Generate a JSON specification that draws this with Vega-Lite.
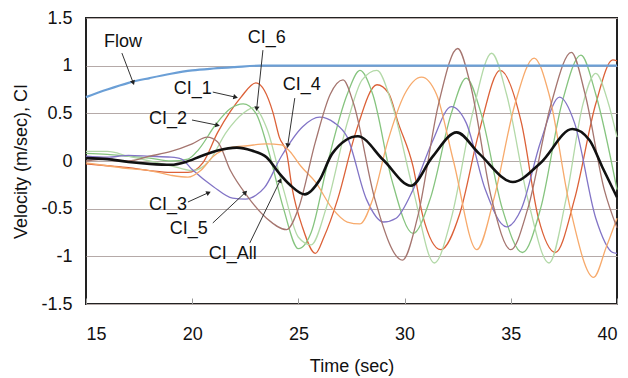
{
  "$schema": "https://vega.github.io/schema/vega-lite/v6.json",
  "width": 531,
  "height": 286,
  "autosize": {"type": "none"},
  "padding": {"left": 86, "top": 18, "right": 11, "bottom": 74},
  "background": "white",
  "config": {
    "view": {"stroke": "#222", "strokeWidth": 2},
    "font": "Liberation Sans",
    "axis": {"labelFont": "Liberation Sans", "titleFont": "Liberation Sans", "labelColor": "#111", "titleColor": "#111", "labelFontSize": 18, "titleFontSize": 18, "titleFontWeight": "normal", "domain": false}
  },
  "datasets": {
    "series": [
      {"s": "Flow", "t": 15, "v": 0.67}, {"s": "Flow", "t": 16, "v": 0.75}, {"s": "Flow", "t": 17, "v": 0.82}, {"s": "Flow", "t": 18, "v": 0.87}, {"s": "Flow", "t": 19, "v": 0.915}, {"s": "Flow", "t": 20, "v": 0.95}, {"s": "Flow", "t": 21, "v": 0.97}, {"s": "Flow", "t": 22, "v": 0.985}, {"s": "Flow", "t": 23.2, "v": 1.0}, {"s": "Flow", "t": 40, "v": 1.0},

      {"s": "CI_1", "t": 15, "v": -0.03}, {"s": "CI_1", "t": 16, "v": -0.05}, {"s": "CI_1", "t": 17, "v": -0.07}, {"s": "CI_1", "t": 18, "v": -0.1}, {"s": "CI_1", "t": 19, "v": -0.12}, {"s": "CI_1", "t": 19.8, "v": -0.12}, {"s": "CI_1", "t": 20.5, "v": -0.02}, {"s": "CI_1", "t": 21.2, "v": 0.3}, {"s": "CI_1", "t": 21.8, "v": 0.52}, {"s": "CI_1", "t": 22.3, "v": 0.67}, {"s": "CI_1", "t": 23.0, "v": 0.82}, {"s": "CI_1", "t": 23.4, "v": 0.74}, {"s": "CI_1", "t": 23.8, "v": 0.51}, {"s": "CI_1", "t": 24.1, "v": 0.25}, {"s": "CI_1", "t": 24.45, "v": 0.08}, {"s": "CI_1", "t": 24.7, "v": -0.28}, {"s": "CI_1", "t": 25.2, "v": -0.7}, {"s": "CI_1", "t": 25.8, "v": -0.97}, {"s": "CI_1", "t": 26.2, "v": -0.8}, {"s": "CI_1", "t": 26.85, "v": -0.4}, {"s": "CI_1", "t": 27.7, "v": 0.3}, {"s": "CI_1", "t": 28.7, "v": 0.8}, {"s": "CI_1", "t": 29.25, "v": 0.71}, {"s": "CI_1", "t": 29.7, "v": 0.4}, {"s": "CI_1", "t": 30.4, "v": -0.06}, {"s": "CI_1", "t": 30.85, "v": -0.57}, {"s": "CI_1", "t": 31.7, "v": -0.93}, {"s": "CI_1", "t": 32.6, "v": -0.55}, {"s": "CI_1", "t": 33.5, "v": 0.3}, {"s": "CI_1", "t": 34.5, "v": 0.95}, {"s": "CI_1", "t": 35.5, "v": 0.4}, {"s": "CI_1", "t": 36.3, "v": -0.6}, {"s": "CI_1", "t": 37.1, "v": -0.96}, {"s": "CI_1", "t": 38.0, "v": -0.4}, {"s": "CI_1", "t": 39.0, "v": 0.6}, {"s": "CI_1", "t": 39.8, "v": 1.06}, {"s": "CI_1", "t": 40, "v": 1.05},

      {"s": "CI_2", "t": 15, "v": 0.08}, {"s": "CI_2", "t": 16, "v": 0.07}, {"s": "CI_2", "t": 17, "v": 0.05}, {"s": "CI_2", "t": 18, "v": 0.03}, {"s": "CI_2", "t": 19, "v": 0.0}, {"s": "CI_2", "t": 19.8, "v": 0.02}, {"s": "CI_2", "t": 20.3, "v": 0.12}, {"s": "CI_2", "t": 21.1, "v": 0.38}, {"s": "CI_2", "t": 21.8, "v": 0.55}, {"s": "CI_2", "t": 22.4, "v": 0.6}, {"s": "CI_2", "t": 23.0, "v": 0.5}, {"s": "CI_2", "t": 23.6, "v": 0.1}, {"s": "CI_2", "t": 24.3, "v": -0.5}, {"s": "CI_2", "t": 25.0, "v": -0.92}, {"s": "CI_2", "t": 25.6, "v": -0.75}, {"s": "CI_2", "t": 26.4, "v": 0.0}, {"s": "CI_2", "t": 27.3, "v": 0.7}, {"s": "CI_2", "t": 27.9, "v": 0.95}, {"s": "CI_2", "t": 28.5, "v": 0.7}, {"s": "CI_2", "t": 29.4, "v": -0.2}, {"s": "CI_2", "t": 30.4, "v": -0.76}, {"s": "CI_2", "t": 31.2, "v": -0.4}, {"s": "CI_2", "t": 32.2, "v": 0.5}, {"s": "CI_2", "t": 32.9, "v": 0.87}, {"s": "CI_2", "t": 33.6, "v": 0.5}, {"s": "CI_2", "t": 34.6, "v": -0.5}, {"s": "CI_2", "t": 35.55, "v": -0.96}, {"s": "CI_2", "t": 36.4, "v": -0.5}, {"s": "CI_2", "t": 37.4, "v": 0.6}, {"s": "CI_2", "t": 38.3, "v": 1.11}, {"s": "CI_2", "t": 39.0, "v": 0.7}, {"s": "CI_2", "t": 40, "v": -0.3},

      {"s": "CI_6", "t": 15, "v": 0.1}, {"s": "CI_6", "t": 16, "v": 0.1}, {"s": "CI_6", "t": 17, "v": 0.05}, {"s": "CI_6", "t": 18, "v": 0.0}, {"s": "CI_6", "t": 19, "v": -0.05}, {"s": "CI_6", "t": 20, "v": -0.1}, {"s": "CI_6", "t": 20.8, "v": 0.0}, {"s": "CI_6", "t": 21.6, "v": 0.3}, {"s": "CI_6", "t": 22.4, "v": 0.5}, {"s": "CI_6", "t": 22.9, "v": 0.56}, {"s": "CI_6", "t": 23.5, "v": 0.35}, {"s": "CI_6", "t": 24.3, "v": -0.3}, {"s": "CI_6", "t": 25.0, "v": -0.8}, {"s": "CI_6", "t": 25.6, "v": -0.88}, {"s": "CI_6", "t": 26.3, "v": -0.5}, {"s": "CI_6", "t": 27.3, "v": 0.4}, {"s": "CI_6", "t": 28.0, "v": 0.85}, {"s": "CI_6", "t": 28.7, "v": 0.95}, {"s": "CI_6", "t": 29.4, "v": 0.6}, {"s": "CI_6", "t": 30.4, "v": -0.3}, {"s": "CI_6", "t": 31.4, "v": -1.07}, {"s": "CI_6", "t": 32.2, "v": -0.6}, {"s": "CI_6", "t": 33.2, "v": 0.5}, {"s": "CI_6", "t": 34.1, "v": 1.13}, {"s": "CI_6", "t": 34.8, "v": 0.7}, {"s": "CI_6", "t": 35.8, "v": -0.4}, {"s": "CI_6", "t": 36.8, "v": -1.07}, {"s": "CI_6", "t": 37.6, "v": -0.4}, {"s": "CI_6", "t": 38.4, "v": 0.6}, {"s": "CI_6", "t": 39.0, "v": 0.92}, {"s": "CI_6", "t": 39.6, "v": 0.6}, {"s": "CI_6", "t": 40, "v": 0.25},

      {"s": "CI_3", "t": 15, "v": 0.05}, {"s": "CI_3", "t": 16, "v": 0.04}, {"s": "CI_3", "t": 17, "v": 0.06}, {"s": "CI_3", "t": 18, "v": 0.05}, {"s": "CI_3", "t": 19, "v": 0.04}, {"s": "CI_3", "t": 19.5, "v": 0.02}, {"s": "CI_3", "t": 20, "v": -0.09}, {"s": "CI_3", "t": 21, "v": -0.27}, {"s": "CI_3", "t": 21.9, "v": -0.39}, {"s": "CI_3", "t": 22.5, "v": -0.4}, {"s": "CI_3", "t": 23.0, "v": -0.36}, {"s": "CI_3", "t": 23.4, "v": -0.28}, {"s": "CI_3", "t": 24.2, "v": 0.05}, {"s": "CI_3", "t": 25.2, "v": 0.36}, {"s": "CI_3", "t": 26.0, "v": 0.46}, {"s": "CI_3", "t": 26.7, "v": 0.4}, {"s": "CI_3", "t": 27.3, "v": 0.25}, {"s": "CI_3", "t": 28.2, "v": -0.4}, {"s": "CI_3", "t": 29.0, "v": -0.64}, {"s": "CI_3", "t": 29.6, "v": -0.6}, {"s": "CI_3", "t": 30.4, "v": -0.3}, {"s": "CI_3", "t": 31.3, "v": 0.2}, {"s": "CI_3", "t": 32.2, "v": 0.57}, {"s": "CI_3", "t": 32.9, "v": 0.4}, {"s": "CI_3", "t": 33.8, "v": -0.3}, {"s": "CI_3", "t": 34.8, "v": -0.69}, {"s": "CI_3", "t": 35.5, "v": -0.5}, {"s": "CI_3", "t": 36.4, "v": 0.2}, {"s": "CI_3", "t": 37.3, "v": 0.67}, {"s": "CI_3", "t": 38.0, "v": 0.4}, {"s": "CI_3", "t": 39.0, "v": -0.6}, {"s": "CI_3", "t": 39.8, "v": -0.96}, {"s": "CI_3", "t": 40, "v": -0.97},

      {"s": "CI_4", "t": 15, "v": -0.02}, {"s": "CI_4", "t": 16, "v": -0.05}, {"s": "CI_4", "t": 17, "v": -0.08}, {"s": "CI_4", "t": 18, "v": -0.1}, {"s": "CI_4", "t": 19, "v": -0.15}, {"s": "CI_4", "t": 19.8, "v": -0.17}, {"s": "CI_4", "t": 20.4, "v": -0.1}, {"s": "CI_4", "t": 21.0, "v": 0.05}, {"s": "CI_4", "t": 21.8, "v": 0.14}, {"s": "CI_4", "t": 22.6, "v": 0.16}, {"s": "CI_4", "t": 23.5, "v": 0.18}, {"s": "CI_4", "t": 24.2, "v": 0.17}, {"s": "CI_4", "t": 24.6, "v": 0.1}, {"s": "CI_4", "t": 25.1, "v": -0.05}, {"s": "CI_4", "t": 25.8, "v": -0.22}, {"s": "CI_4", "t": 26.6, "v": -0.5}, {"s": "CI_4", "t": 27.3, "v": -0.64}, {"s": "CI_4", "t": 27.9, "v": -0.66}, {"s": "CI_4", "t": 28.5, "v": -0.4}, {"s": "CI_4", "t": 29.2, "v": 0.2}, {"s": "CI_4", "t": 30.0, "v": 0.7}, {"s": "CI_4", "t": 30.8, "v": 0.88}, {"s": "CI_4", "t": 31.5, "v": 0.7}, {"s": "CI_4", "t": 32.3, "v": 0.0}, {"s": "CI_4", "t": 33.4, "v": -0.93}, {"s": "CI_4", "t": 34.2, "v": -0.4}, {"s": "CI_4", "t": 35.2, "v": 0.6}, {"s": "CI_4", "t": 36.1, "v": 1.08}, {"s": "CI_4", "t": 36.8, "v": 0.7}, {"s": "CI_4", "t": 37.8, "v": -0.5}, {"s": "CI_4", "t": 38.9, "v": -1.22}, {"s": "CI_4", "t": 39.5, "v": -0.9}, {"s": "CI_4", "t": 40, "v": -0.6},

      {"s": "CI_5", "t": 15, "v": 0.0}, {"s": "CI_5", "t": 16, "v": 0.02}, {"s": "CI_5", "t": 17, "v": 0.0}, {"s": "CI_5", "t": 18, "v": 0.05}, {"s": "CI_5", "t": 19, "v": 0.1}, {"s": "CI_5", "t": 20, "v": 0.18}, {"s": "CI_5", "t": 20.7, "v": 0.25}, {"s": "CI_5", "t": 21.2, "v": 0.2}, {"s": "CI_5", "t": 21.8, "v": -0.1}, {"s": "CI_5", "t": 22.6, "v": -0.37}, {"s": "CI_5", "t": 23.5, "v": -0.6}, {"s": "CI_5", "t": 24.45, "v": -0.72}, {"s": "CI_5", "t": 25.0, "v": -0.5}, {"s": "CI_5", "t": 25.8, "v": 0.2}, {"s": "CI_5", "t": 26.5, "v": 0.7}, {"s": "CI_5", "t": 27.1, "v": 0.85}, {"s": "CI_5", "t": 27.6, "v": 0.6}, {"s": "CI_5", "t": 28.6, "v": -0.4}, {"s": "CI_5", "t": 29.9, "v": -1.04}, {"s": "CI_5", "t": 30.6, "v": -0.6}, {"s": "CI_5", "t": 31.6, "v": 0.6}, {"s": "CI_5", "t": 32.5, "v": 1.18}, {"s": "CI_5", "t": 33.1, "v": 0.8}, {"s": "CI_5", "t": 34.1, "v": -0.4}, {"s": "CI_5", "t": 35.0, "v": -0.93}, {"s": "CI_5", "t": 35.8, "v": -0.5}, {"s": "CI_5", "t": 36.9, "v": 0.6}, {"s": "CI_5", "t": 37.85, "v": 1.14}, {"s": "CI_5", "t": 38.5, "v": 0.7}, {"s": "CI_5", "t": 39.4, "v": -0.3}, {"s": "CI_5", "t": 40, "v": -0.7},

      {"s": "CI_All", "t": 15, "v": 0.03}, {"s": "CI_All", "t": 16, "v": 0.02}, {"s": "CI_All", "t": 17, "v": -0.01}, {"s": "CI_All", "t": 18, "v": -0.03}, {"s": "CI_All", "t": 19, "v": -0.04}, {"s": "CI_All", "t": 19.7, "v": -0.01}, {"s": "CI_All", "t": 20.4, "v": 0.05}, {"s": "CI_All", "t": 21.2, "v": 0.11}, {"s": "CI_All", "t": 22.1, "v": 0.14}, {"s": "CI_All", "t": 22.8, "v": 0.11}, {"s": "CI_All", "t": 23.5, "v": 0.04}, {"s": "CI_All", "t": 24.1, "v": -0.13}, {"s": "CI_All", "t": 24.6, "v": -0.25}, {"s": "CI_All", "t": 25.3, "v": -0.35}, {"s": "CI_All", "t": 26.0, "v": -0.2}, {"s": "CI_All", "t": 26.6, "v": 0.08}, {"s": "CI_All", "t": 27.8, "v": 0.26}, {"s": "CI_All", "t": 29.0, "v": 0.01}, {"s": "CI_All", "t": 30.3, "v": -0.26}, {"s": "CI_All", "t": 31.3, "v": 0.04}, {"s": "CI_All", "t": 32.45, "v": 0.3}, {"s": "CI_All", "t": 33.5, "v": 0.08}, {"s": "CI_All", "t": 35.1, "v": -0.22}, {"s": "CI_All", "t": 36.4, "v": -0.02}, {"s": "CI_All", "t": 37.9, "v": 0.335}, {"s": "CI_All", "t": 38.7, "v": 0.22}, {"s": "CI_All", "t": 39.3, "v": -0.06}, {"s": "CI_All", "t": 40, "v": -0.38}
    ],
    "notes": [
      {"label": "Flow", "t": 16.74, "v": 1.247, "t1": 16.69, "v1": 1.132, "t2": 17.21, "v2": 0.828},
      {"label": "CI_6", "t": 23.51, "v": 1.29, "t1": 23.33, "v1": 1.163, "t2": 23.04, "v2": 0.556},
      {"label": "CI_1", "t": 20.03, "v": 0.755, "t1": 20.97, "v1": 0.723, "t2": 22.01, "v2": 0.671},
      {"label": "CI_2", "t": 18.86, "v": 0.44, "t1": 19.99, "v1": 0.43, "t2": 21.16, "v2": 0.377},
      {"label": "CI_4", "t": 25.16, "v": 0.8, "t1": 24.83, "v1": 0.66, "t2": 24.5, "v2": 0.168},
      {"label": "CI_3", "t": 18.86, "v": -0.46, "t1": 19.8, "v1": -0.43, "t2": 20.74, "v2": -0.335},
      {"label": "CI_5", "t": 19.84, "v": -0.71, "t1": 20.97, "v1": -0.65, "t2": 22.48, "v2": -0.335},
      {"label": "CI_All", "t": 21.91, "v": -0.975, "t1": 22.71, "v1": -0.86, "t2": 24.13, "v2": -0.21}
    ]
  },
  "layer": [
    {
      "data": {"name": "series"},
      "transform": [{"filter": "datum.s !== 'Flow' && datum.s !== 'CI_All'"}],
      "mark": {"type": "line", "interpolate": "monotone", "strokeWidth": 1.3},
      "encoding": {
        "x": {"field": "t", "type": "quantitative", "scale": {"domain": [15, 40], "nice": false}, "axis": {"values": [15, 20, 25, 30, 35, 40], "title": "Time (sec)", "grid": false, "tickSize": -6, "tickColor": "#999", "tickWidth": 1, "labelPadding": 27, "titlePadding": 14}},
        "y": {"field": "v", "type": "quantitative", "scale": {"domain": [-1.5, 1.5], "nice": false}, "axis": {"values": [-1.5, -1, -0.5, 0, 0.5, 1, 1.5], "labelExpr": "'' + datum.value", "title": "Velocity (m/sec), CI", "grid": true, "gridColor": "#b5aaa8", "gridWidth": 1.2, "ticks": false, "labelPadding": 14, "titlePadding": 10}},
        "color": {"field": "s", "type": "nominal", "legend": null, "scale": {"domain": ["CI_1", "CI_2", "CI_3", "CI_4", "CI_5", "CI_6"], "range": ["#dc6138", "#86c47f", "#8274c6", "#f7aa6c", "#a5756f", "#b3d9a8"]}},
        "detail": {"field": "s"}
      }
    },
    {
      "data": {"name": "series"},
      "transform": [{"filter": "datum.s === 'Flow'"}],
      "mark": {"type": "line", "interpolate": "monotone", "strokeWidth": 2.2, "color": "#6b9fd6"},
      "encoding": {"x": {"field": "t", "type": "quantitative"}, "y": {"field": "v", "type": "quantitative"}}
    },
    {
      "data": {"name": "series"},
      "transform": [{"filter": "datum.s === 'CI_All'"}],
      "mark": {"type": "line", "interpolate": "monotone", "strokeWidth": 2.6, "color": "#111"},
      "encoding": {"x": {"field": "t", "type": "quantitative"}, "y": {"field": "v", "type": "quantitative"}}
    },
    {
      "data": {"name": "notes"},
      "mark": {"type": "rule", "color": "#333", "strokeWidth": 1},
      "encoding": {"x": {"field": "t1", "type": "quantitative"}, "y": {"field": "v1", "type": "quantitative"}, "x2": {"field": "t2"}, "y2": {"field": "v2"}}
    },
    {
      "data": {"name": "notes"},
      "transform": [{"calculate": "atan2((datum.t2 - datum.t1) * 21.24, (datum.v2 - datum.v1) * 95.33) * 180 / PI", "as": "ang"}],
      "mark": {"type": "point", "shape": "triangle", "filled": true, "color": "#222", "size": 28, "opacity": 1},
      "encoding": {"x": {"field": "t2", "type": "quantitative"}, "y": {"field": "v2", "type": "quantitative"}, "angle": {"field": "ang", "type": "quantitative", "scale": null}}
    },
    {
      "data": {"name": "notes"},
      "mark": {"type": "text", "font": "Liberation Sans", "fontSize": 18, "color": "#111", "align": "center", "baseline": "middle"},
      "encoding": {"x": {"field": "t", "type": "quantitative"}, "y": {"field": "v", "type": "quantitative"}, "text": {"field": "label"}}
    }
  ]
}
